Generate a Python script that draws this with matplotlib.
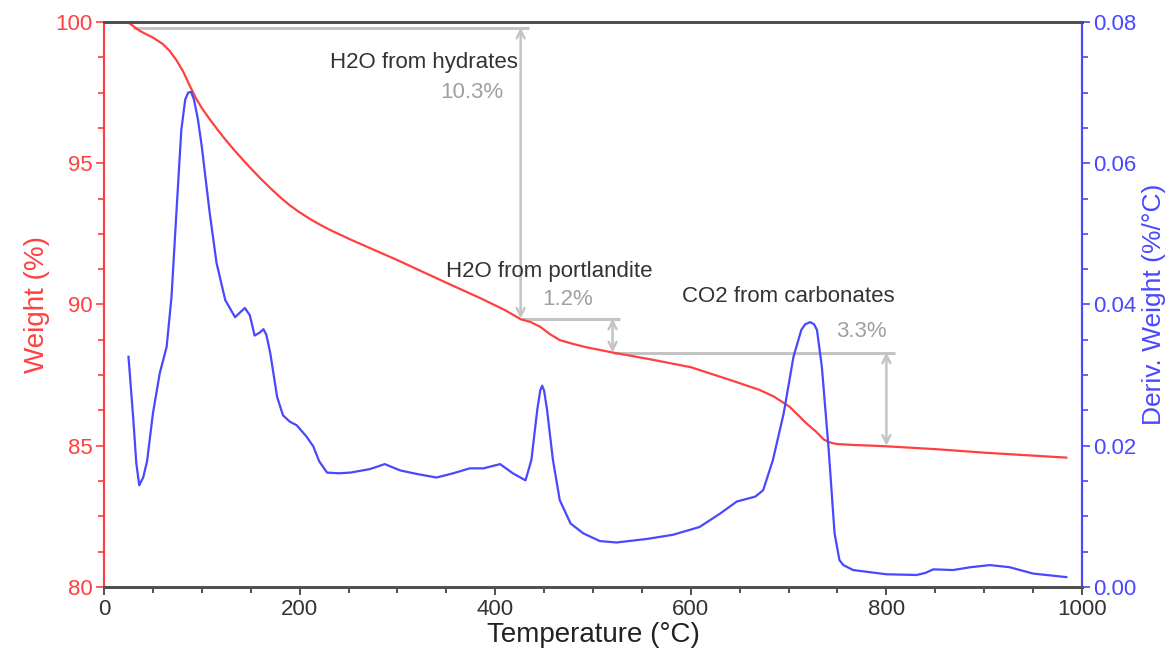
import matplotlib
matplotlib.use("Agg")
import matplotlib.pyplot as plt
from matplotlib.ticker import MultipleLocator, FormatStrFormatter

plt.rcParams['font.family'] = ['Liberation Sans', 'DejaVu Sans']

# TGA weight curve
temp_w = [25, 30, 35, 40, 50, 60, 67, 74, 81, 88, 94, 100, 108, 116, 124, 132, 142,
          150, 160, 170, 180, 190, 200, 211, 220, 231, 252, 300, 350, 385, 410, 426,
          436, 446, 456, 466, 480, 494, 520, 560, 600, 640, 670, 685, 701, 718, 728,
          736, 742, 749, 765, 787, 800, 850, 902, 950, 984]
weight = [99.98, 99.85, 99.72, 99.62, 99.45, 99.22, 98.98, 98.65, 98.24, 97.72, 97.3,
          96.95, 96.56, 96.19, 95.84, 95.51, 95.12, 94.82, 94.46, 94.12, 93.8, 93.51,
          93.26, 93.02, 92.84, 92.64, 92.3, 91.57, 90.77, 90.22, 89.8, 89.48, 89.38,
          89.21, 88.95, 88.74, 88.6, 88.48, 88.3, 88.05, 87.78, 87.33, 86.98, 86.74,
          86.38, 85.8, 85.5, 85.22, 85.12, 85.06, 85.03, 85.0, 84.98, 84.88, 84.75,
          84.65, 84.58]

# DTG derivative curve
temp_d = [25, 30, 33, 36, 40, 44, 50, 57, 64, 69, 74, 79, 83, 86, 89, 92, 96, 100,
          108, 115, 124, 134, 140, 144, 149, 154, 159, 163, 166, 170, 177, 183, 190,
          197, 207, 214, 220, 228, 240, 252, 272, 287, 303, 320, 340, 357, 374, 388,
          405, 418, 431, 437, 443, 446, 448, 450, 453, 459, 466, 477, 490, 507, 524,
          555, 582, 609, 630, 647, 666, 674, 684, 695, 705, 713, 717, 722, 726, 729,
          734, 741, 747, 752, 756, 766, 800, 831, 840, 848, 868, 886, 906, 926, 950,
          984]
deriv = [0.0326, 0.0236, 0.0175, 0.0144, 0.0155, 0.0178, 0.0246, 0.0303, 0.034,
         0.0411, 0.053, 0.0647, 0.0690, 0.0700, 0.0701, 0.0690, 0.0662, 0.0623, 0.053,
         0.0459, 0.0406, 0.0382, 0.0390, 0.0395, 0.0385, 0.0356, 0.0360, 0.0365,
         0.0357, 0.0331, 0.0269, 0.0243, 0.0234, 0.0229, 0.0213, 0.0199, 0.0178,
         0.0162, 0.0161, 0.0162, 0.0167, 0.0174, 0.0165, 0.0160, 0.0155, 0.0161,
         0.0168, 0.0168, 0.0174, 0.0161, 0.0151, 0.0180, 0.0251, 0.0278, 0.0285,
         0.0278, 0.0251, 0.0180, 0.0123, 0.0090, 0.0076, 0.0065, 0.0063, 0.0068,
         0.0074, 0.0085, 0.0104, 0.0121, 0.0128, 0.0137, 0.0180, 0.0246, 0.0326,
         0.0364, 0.0372, 0.0375, 0.0372, 0.0364, 0.0312, 0.0194, 0.0076, 0.0038,
         0.0031, 0.0024, 0.0018, 0.0017, 0.0020, 0.0025, 0.0024, 0.0028, 0.0031,
         0.0028, 0.0019, 0.0014]

# Mass-loss steps
step_labels = ["H2O from hydrates", "H2O from portlandite", "CO2 from carbonates"]
step_pcts = ["10.3%", "1.2%", "3.3%"]
step_top = [99.8, 89.5, 88.3]
step_bottom = [89.5, 88.3, 85.0]
step_arrow_t = [426, 520, 800]
step_line_start = [30, 426, 520]
step_line_end = [435, 528, 809]

RED = '#ff4040'
BLUE = '#4848ff'
GRAY = '#c4c4c4'
DARK = '#333333'

fig = plt.figure(figsize=(11.73, 6.52), dpi=100)
ax = fig.add_axes([0.0887, 0.0997, 0.8337, 0.8666])
ax2 = ax.twinx()

ax.plot(temp_w, weight, color=RED, lw=1.6, zorder=3)
ax2.plot(temp_d, deriv, color=BLUE, lw=1.6, zorder=3)

ax.set_xlim(0, 1000)
ax.set_ylim(80, 100)
ax2.set_ylim(0, 0.08)

ax.xaxis.set_major_locator(MultipleLocator(200))
ax.xaxis.set_minor_locator(MultipleLocator(50))
ax.yaxis.set_major_locator(MultipleLocator(5))
ax.yaxis.set_minor_locator(MultipleLocator(1.25))
ax2.yaxis.set_major_locator(MultipleLocator(0.02))
ax2.yaxis.set_minor_locator(MultipleLocator(0.005))
ax2.yaxis.set_major_formatter(FormatStrFormatter('%.2f'))

ax.tick_params(axis='x', which='both', direction='out', colors=DARK,
               labelsize=16, pad=3)
ax.tick_params(axis='x', which='major', length=6, width=1.2)
ax.tick_params(axis='x', which='minor', length=4, width=1.2)
ax.tick_params(axis='y', which='both', direction='out', colors=RED, labelsize=16, pad=2)
ax.tick_params(axis='y', which='major', length=6, width=1.2)
ax.tick_params(axis='y', which='minor', length=4, width=1.2)
ax2.tick_params(axis='y', which='both', direction='out', colors=BLUE, labelsize=16, pad=2)
ax2.tick_params(axis='y', which='major', length=6, width=1.2)
ax2.tick_params(axis='y', which='minor', length=4, width=1.2)

for a in (ax, ax2):
    a.spines['top'].set_color('#505050')
    a.spines['top'].set_linewidth(2)
    a.spines['bottom'].set_color('#505050')
    a.spines['bottom'].set_linewidth(2)
    a.spines['left'].set_color(RED)
    a.spines['left'].set_linewidth(1.5)
    a.spines['right'].set_color(BLUE)
    a.spines['right'].set_linewidth(1.5)

ax.set_xlabel("Temperature (°C)", fontsize=20, color='#222222', labelpad=1)
ax.set_ylabel("Weight (%)", fontsize=20, color=RED, labelpad=4)
ax2.set_ylabel("Deriv. Weight (%/°C)", fontsize=19, color=BLUE, labelpad=4)

# horizontal reference lines and double-headed arrows for each step
for i in range(3):
    ax.plot([step_line_start[i], step_line_end[i]], [step_top[i], step_top[i]],
            color=GRAY, lw=2.2, zorder=2, solid_capstyle='butt')
    ax.annotate("", xy=(step_arrow_t[i], step_bottom[i]),
                xytext=(step_arrow_t[i], step_top[i]),
                arrowprops=dict(arrowstyle='<->', color=GRAY, lw=1.8,
                                mutation_scale=14, shrinkA=0, shrinkB=0),
                zorder=2)

ax.text(423, 98.58, step_labels[0], fontsize=16, color=DARK, ha='right', va='center')
ax.text(408, 97.49, step_pcts[0], fontsize=16, color='#a0a0a0', ha='right', va='center')
ax.text(455, 91.15, step_labels[1], fontsize=16, color=DARK, ha='center', va='center')
ax.text(474, 90.19, step_pcts[1], fontsize=16, color='#a0a0a0', ha='center', va='center')
ax.text(700, 90.27, step_labels[2], fontsize=16, color=DARK, ha='center', va='center')
ax.text(774, 89.06, step_pcts[2], fontsize=16, color='#a0a0a0', ha='center', va='center')

fig.savefig("out.png", dpi=100)
